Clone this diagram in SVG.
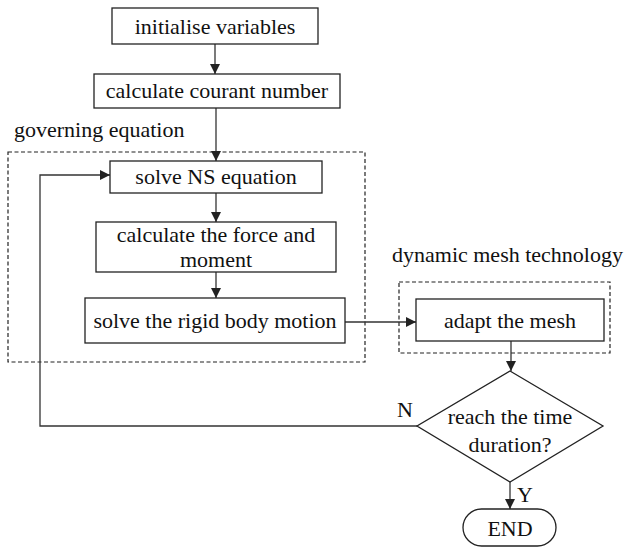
<svg xmlns="http://www.w3.org/2000/svg" width="628" height="547" viewBox="0 0 628 547" font-family="'Liberation Serif', 'DejaVu Serif', serif">
  <style>
    .box { fill: #fff; stroke: #222; stroke-width: 1.3; }
    .group { fill: none; stroke: #222; stroke-width: 1.2; stroke-dasharray: 4 2.5; }
    .wire { fill: none; stroke: #333; stroke-width: 1.3; }
    text { font-family: 'Liberation Serif', 'DejaVu Serif', serif; font-size: 22px; fill: #111; }
    .c { text-anchor: middle; }
  </style>
  <defs>
    <marker id="arrow" viewBox="0 0 10 10" refX="10" refY="5" markerWidth="10" markerHeight="10" markerUnits="userSpaceOnUse" orient="auto">
      <path d="M0,0 L10,5 L0,10 Z" fill="#222"/>
    </marker>
  </defs>

  <rect id="bg" width="628" height="547" fill="#fff"/>

  <!-- group frames -->
  <g id="governing-equation">
    <rect class="group" x="8" y="152" width="357" height="210"/>
    <text x="14" y="137">governing equation</text>
  </g>
  <g id="dynamic-mesh">
    <rect class="group" x="399" y="282" width="211" height="71"/>
    <text x="392" y="262">dynamic mesh technology</text>
  </g>

  <!-- connectors -->
  <g id="connectors">
    <line class="wire" x1="215" y1="44" x2="215" y2="74" marker-end="url(#arrow)"/>
    <line class="wire" x1="216" y1="108" x2="216" y2="161" marker-end="url(#arrow)"/>
    <line class="wire" x1="216" y1="193" x2="216" y2="222" marker-end="url(#arrow)"/>
    <line class="wire" x1="216" y1="272" x2="216" y2="298" marker-end="url(#arrow)"/>
    <line class="wire" x1="345" y1="322" x2="416" y2="322" marker-end="url(#arrow)"/>
    <line class="wire" x1="511" y1="341" x2="511" y2="371" marker-end="url(#arrow)"/>
    <polyline class="wire" points="417,426 40,426 40,175 110,175" marker-end="url(#arrow)"/>
    <line class="wire" x1="510" y1="482" x2="510" y2="509" marker-end="url(#arrow)"/>
    <text x="397" y="417" font-size="21">N</text>
    <text x="517" y="502" font-size="21">Y</text>
  </g>

  <!-- process nodes -->
  <g id="init">
    <rect class="box" x="112" y="8" width="206" height="36"/>
    <text class="c" x="215" y="34">initialise variables</text>
  </g>
  <g id="courant">
    <rect class="box" x="94" y="74" width="246" height="34"/>
    <text class="c" x="217" y="98">calculate courant number</text>
  </g>
  <g id="solve-ns">
    <rect class="box" x="110" y="161" width="212" height="32"/>
    <text class="c" x="216" y="184">solve NS equation</text>
  </g>
  <g id="force">
    <rect class="box" x="96" y="222" width="240" height="50"/>
    <text class="c" x="216" y="242">calculate the force and</text>
    <text class="c" x="216" y="267">moment</text>
  </g>
  <g id="rigid-body">
    <rect class="box" x="85" y="298" width="260" height="45"/>
    <text class="c" x="215" y="328">solve the rigid body motion</text>
  </g>
  <g id="adapt-mesh">
    <rect class="box" x="416" y="299" width="188" height="42"/>
    <text class="c" x="510" y="328">adapt the mesh</text>
  </g>
  <g id="time-check">
    <polygon class="box" points="510,371 603,426 510,482 417,426"/>
    <text class="c" x="510" y="424">reach the time</text>
    <text class="c" x="510" y="452">duration?</text>
  </g>
  <g id="end">
    <rect class="box" x="463" y="509" width="93" height="37" rx="18.5"/>
    <text class="c" x="510" y="536">END</text>
  </g>
</svg>
